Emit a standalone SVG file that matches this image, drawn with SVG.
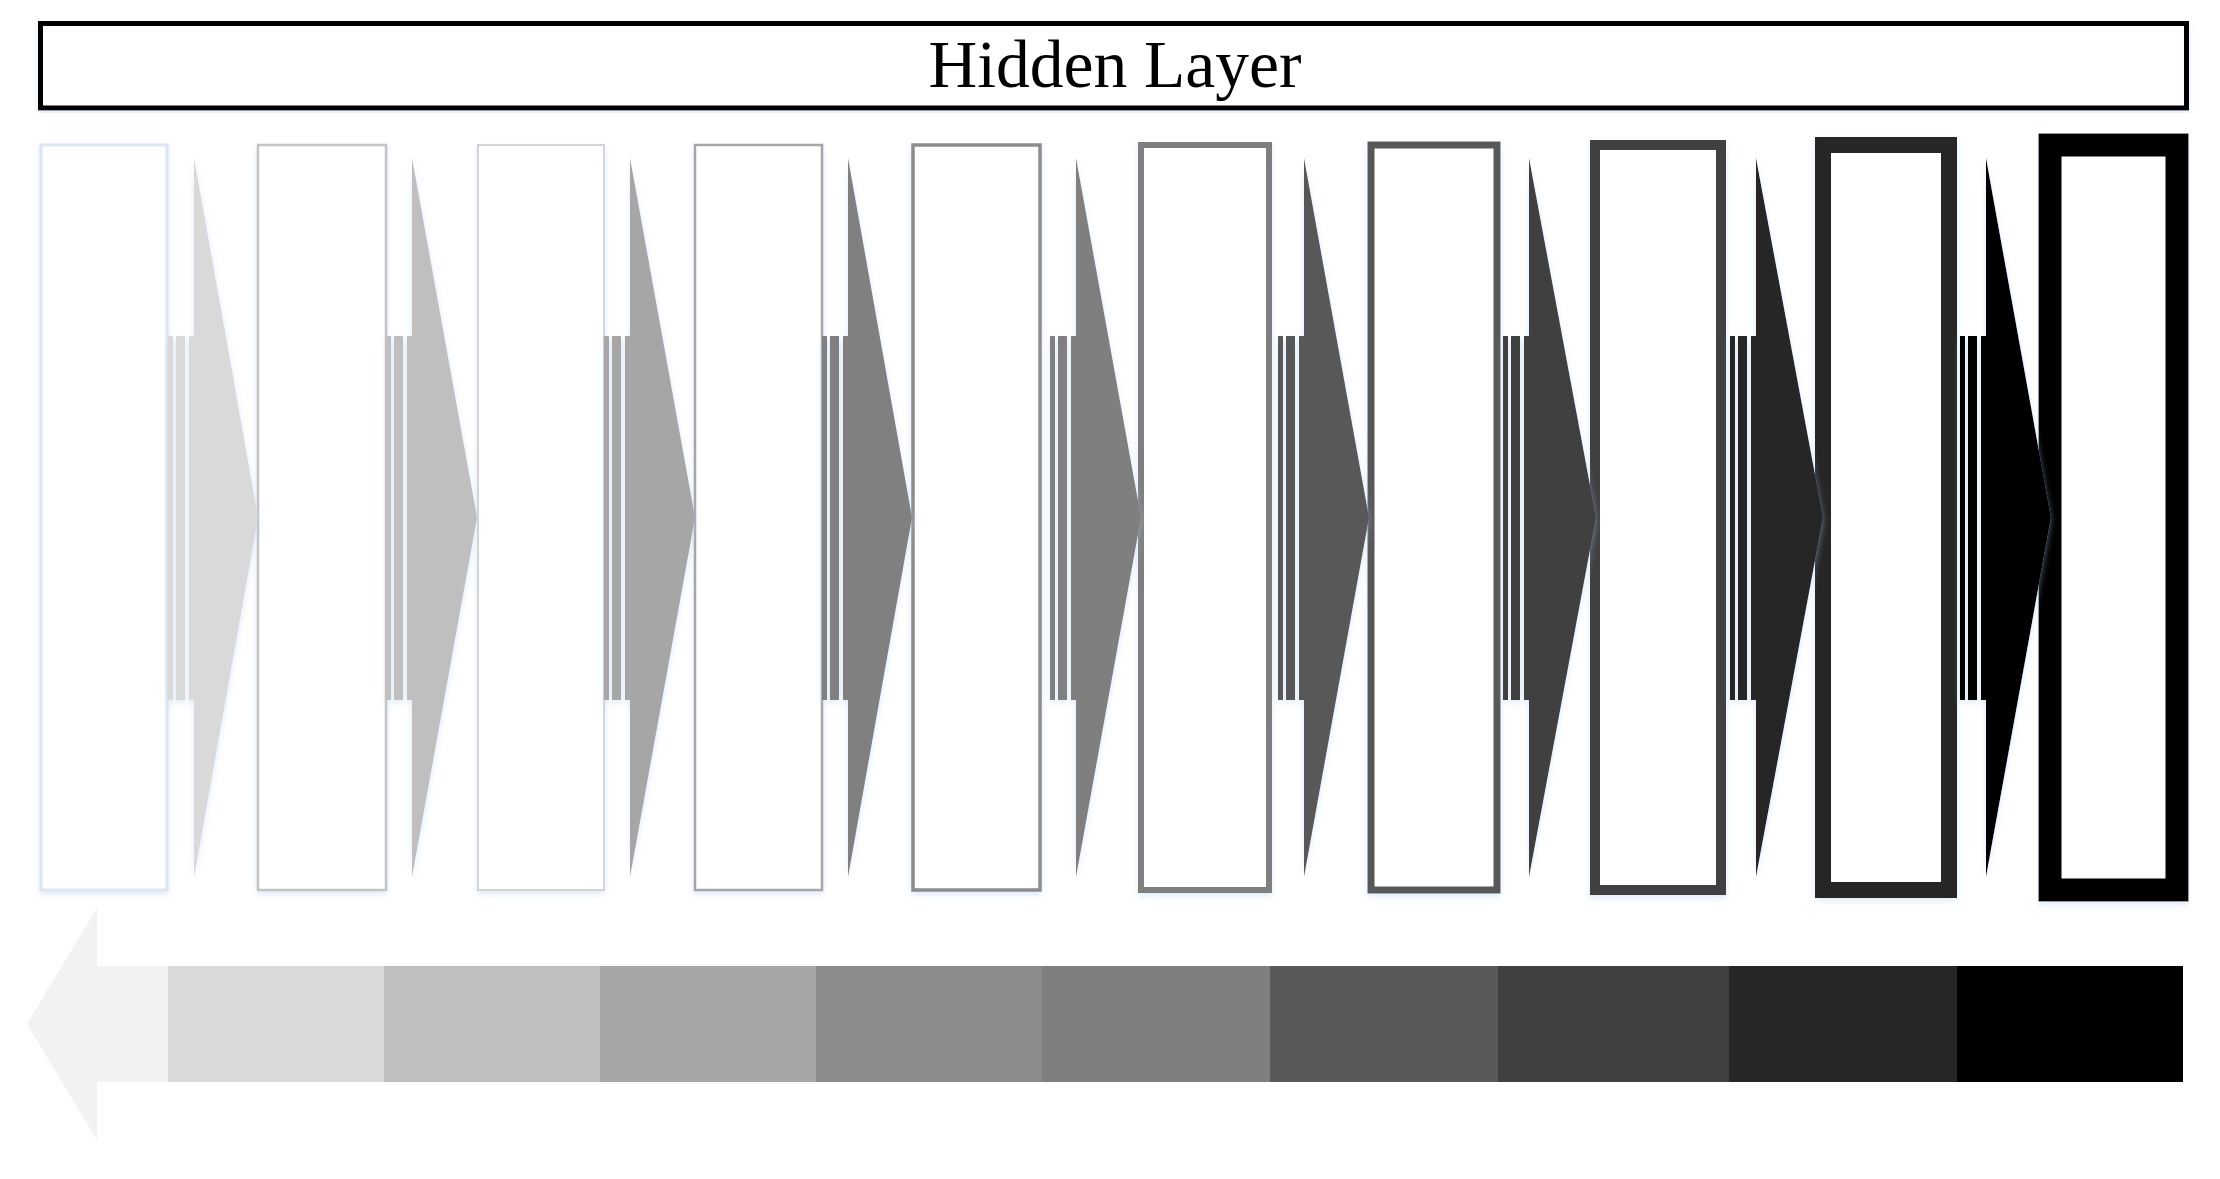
<svg xmlns="http://www.w3.org/2000/svg" width="2220" height="1179" viewBox="0 0 2220 1179">
  <defs>
    <filter id="glow" x="-10%" y="-5%" width="120%" height="110%">
      <feGaussianBlur in="SourceAlpha" stdDeviation="3"/>
      <feOffset dx="0" dy="3" result="b"/>
      <feFlood flood-color="#b8cfee" flood-opacity="0.45"/>
      <feComposite in2="b" operator="in"/>
      <feMerge><feMergeNode/><feMergeNode in="SourceGraphic"/></feMerge>
    </filter>
  </defs>
  <style>
    .box { fill: #ffffff; filter: url(#glow); }
    .title { font-family: "Liberation Serif", "Times New Roman", serif; font-size: 67.5px; fill: #000000; }
  </style>
  <rect width="2220" height="1179" fill="#ffffff"/>

  <g id="hidden-layer">
    <rect x="40.5" y="23.5" width="2146" height="84.5" fill="#ffffff" stroke="#000000" stroke-width="5" filter="url(#glow)"/>
    <text class="title" x="1115" y="87" text-anchor="middle">Hidden Layer</text>
  </g>

  <g id="layers">
    <g id="layer-1"><rect class="box" x="41" y="145" width="126" height="745" stroke="#dde7f3" stroke-width="3"/></g>
    <g id="layer-2"><rect class="box" x="258" y="145" width="128" height="745" stroke="#c4c4c4" stroke-width="2.5"/></g>
    <g id="layer-3"><rect class="box" x="478" y="145" width="126" height="745" stroke="#d4d4d4" stroke-width="2"/></g>
    <g id="layer-4"><rect class="box" x="695" y="145" width="127" height="745" stroke="#a6a6a6" stroke-width="2.5"/></g>
    <g id="layer-5"><rect class="box" x="913" y="145" width="127" height="745" stroke="#8c8c8c" stroke-width="3.5"/></g>
    <g id="layer-6"><rect class="box" x="1141" y="145" width="128" height="745" stroke="#7f7f7f" stroke-width="6"/></g>
    <g id="layer-7"><rect class="box" x="1371" y="145" width="126" height="745" stroke="#595959" stroke-width="7"/></g>
    <g id="layer-8"><rect class="box" x="1595" y="145" width="126" height="745" stroke="#404040" stroke-width="10"/></g>
    <g id="layer-9"><rect class="box" x="1823" y="145" width="126" height="745" stroke="#262626" stroke-width="16"/></g>
    <g id="layer-10"><rect class="box" x="2050" y="145" width="127" height="745" stroke="#000000" stroke-width="23"/></g>
  </g>

  <g id="connectors">
    <g id="arrow-1" fill="#d9d9d9" filter="url(#glow)">
      <rect x="168" y="336" width="5" height="364"/><rect x="176" y="336" width="9" height="364"/>
      <path d="M189,336 H194 V158 L258,517.5 L194,877 V700 H189 Z"/>
    </g>
    <g id="arrow-2" fill="#bfbfbf" filter="url(#glow)">
      <rect x="386" y="336" width="5" height="364"/><rect x="394" y="336" width="9" height="364"/>
      <path d="M407,336 H412 V158 L477,517.5 L412,877 V700 H407 Z"/>
    </g>
    <g id="arrow-3" fill="#a6a6a6" filter="url(#glow)">
      <rect x="604" y="336" width="5" height="364"/><rect x="612" y="336" width="9" height="364"/>
      <path d="M625,336 H630 V158 L695,517.5 L630,877 V700 H625 Z"/>
    </g>
    <g id="arrow-4" fill="#808080" filter="url(#glow)">
      <rect x="822" y="336" width="5" height="364"/><rect x="830" y="336" width="9" height="364"/>
      <path d="M843,336 H848 V158 L912,517.5 L848,877 V700 H843 Z"/>
    </g>
    <g id="arrow-5" fill="#7f7f7f" filter="url(#glow)">
      <rect x="1050" y="336" width="5" height="364"/><rect x="1058" y="336" width="9" height="364"/>
      <path d="M1071,336 H1076 V158 L1141,517.5 L1076,877 V700 H1071 Z"/>
    </g>
    <g id="arrow-6" fill="#595959" filter="url(#glow)">
      <rect x="1278" y="336" width="5" height="364"/><rect x="1286" y="336" width="9" height="364"/>
      <path d="M1299,336 H1304 V158 L1369,517.5 L1304,877 V700 H1299 Z"/>
    </g>
    <g id="arrow-7" fill="#404040" filter="url(#glow)">
      <rect x="1503" y="336" width="5" height="364"/><rect x="1511" y="336" width="9" height="364"/>
      <path d="M1524,336 H1529 V158 L1596,517.5 L1529,877 V700 H1524 Z"/>
    </g>
    <g id="arrow-8" fill="#262626" filter="url(#glow)">
      <rect x="1730" y="336" width="5" height="364"/><rect x="1738" y="336" width="9" height="364"/>
      <path d="M1751,336 H1756 V158 L1823,517.5 L1756,877 V700 H1751 Z"/>
    </g>
    <g id="arrow-9" fill="#000000" filter="url(#glow)">
      <rect x="1960" y="336" width="5" height="364"/><rect x="1968" y="336" width="9" height="364"/>
      <path d="M1981,336 H1986 V158 L2051,517.5 L1986,877 V700 H1981 Z"/>
    </g>
  </g>

  <g id="gradient-arrow">
    <path d="M27,1024 L97,908 V966 H168 V1082 H97 V1140 Z" fill="#f2f2f2"/>
    <rect x="168" y="966" width="216" height="116" fill="#d9d9d9"/>
    <rect x="384" y="966" width="216" height="116" fill="#bfbfbf"/>
    <rect x="600" y="966" width="216" height="116" fill="#a6a6a6"/>
    <rect x="816" y="966" width="226" height="116" fill="#8c8c8c"/>
    <rect x="1042" y="966" width="228" height="116" fill="#7f7f7f"/>
    <rect x="1270" y="966" width="228" height="116" fill="#595959"/>
    <rect x="1498" y="966" width="231" height="116" fill="#404040"/>
    <rect x="1729" y="966" width="228" height="116" fill="#262626"/>
    <rect x="1957" y="966" width="226" height="116" fill="#000000"/>
  </g>
</svg>
